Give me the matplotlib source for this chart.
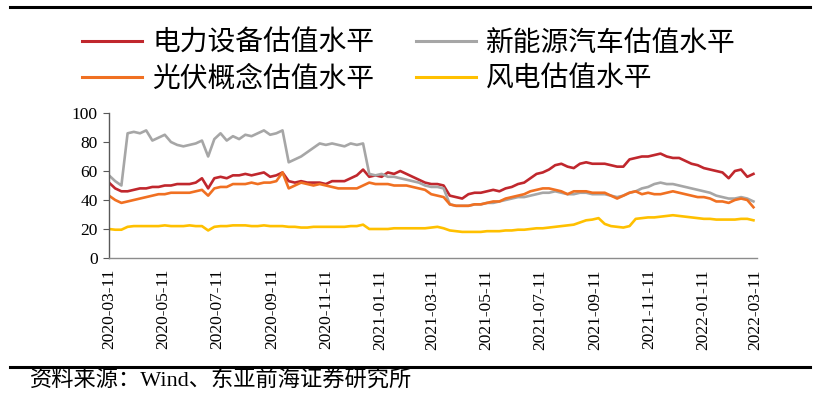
import matplotlib
matplotlib.use('Agg')
import matplotlib.pyplot as plt
import matplotlib.dates as mdates
from matplotlib.lines import Line2D
import pandas as pd

# weekly readings, first point 2020-03-11
dates = pd.date_range('2020-03-11', periods=105, freq='7D')

power_equip = [52, 48, 46, 46, 47, 48, 48, 49, 49, 50,
               50, 51, 51, 51, 52, 55, 48, 55, 56, 55,
               57, 57, 58, 57, 58, 59, 56, 57, 59, 53,
               52, 53, 52, 52, 52, 51, 53, 53, 53, 55,
               57, 61, 56, 57, 56, 59, 58, 60, 58, 56,
               54, 52, 51, 51, 50, 43, 42, 41, 44, 45,
               45, 46, 47, 46, 48, 49, 51, 52, 55, 58,
               59, 61, 64, 65, 63, 62, 65, 66, 65, 65,
               65, 64, 63, 63, 68, 69, 70, 70, 71, 72,
               70, 69, 69, 67, 65, 64, 62, 61, 60, 59,
               55, 60, 61, 56, 58]

nev = [57, 53, 50, 86, 87, 86, 88, 81, 83, 85,
       80, 78, 77, 78, 79, 81, 70, 82, 86, 81,
       84, 82, 85, 84, 86, 88, 85, 86, 88, 66,
       68, 70, 73, 76, 79, 78, 79, 78, 77, 79,
       78, 79, 58, 57, 58, 56, 56, 55, 54, 53,
       52, 50, 49, 49, 48, 37, 36, 36, 36, 37,
       37, 38, 38, 39, 40, 41, 42, 42, 43, 44,
       45, 45, 46, 45, 44, 44, 45, 45, 44, 44,
       44, 43, 42, 43, 45, 46, 48, 49, 51, 52,
       51, 51, 50, 49, 48, 47, 46, 45, 43, 42,
       41, 41, 42, 41, 39]

pv = [43, 40, 38, 39, 40, 41, 42, 43, 44, 44,
      45, 45, 45, 45, 46, 47, 43, 48, 49, 49,
      51, 51, 51, 52, 51, 52, 52, 53, 59, 48,
      50, 52, 51, 50, 51, 50, 49, 48, 48, 48,
      48, 50, 52, 51, 51, 51, 50, 50, 50, 49,
      48, 47, 44, 43, 42, 37, 36, 36, 36, 37,
      37, 38, 39, 39, 41, 42, 43, 44, 46, 47,
      48, 48, 47, 46, 44, 46, 46, 46, 45, 45,
      45, 43, 41, 43, 45, 46, 44, 45, 44, 44,
      45, 46, 45, 44, 43, 42, 42, 41, 39, 39,
      38, 40, 41, 40, 35]

wind = [20, 19.5, 19.5, 21.5, 22, 22, 22, 22, 22, 22.5,
        22, 22, 22, 22.5, 22, 22, 19, 21.5, 22, 22,
        22.5, 22.5, 22.5, 22, 22, 22.5, 22, 22, 22, 21.5,
        21.5, 21, 21, 21.5, 21.5, 21.5, 21.5, 21.5, 21.5, 22,
        22, 23, 20, 20, 20, 20, 20.5, 20.5, 20.5, 20.5,
        20.5, 20.5, 21, 21.5, 20.5, 19, 18.5, 18, 18, 18,
        18, 18.5, 18.5, 18.5, 19, 19, 19.5, 19.5, 20, 20.5,
        20.5, 21, 21.5, 22, 22.5, 23, 24.5, 26, 26.5, 27.5,
        23.5, 22, 21.5, 21, 22, 27, 27.5, 28, 28, 28.5,
        29, 29.5, 29, 28.5, 28, 27.5, 27, 27, 26.5, 26.5,
        26.5, 26.5, 27, 27, 26]

labels = ['电力设备估值水平', '新能源汽车估值水平', '光伏概念估值水平', '风电估值水平']
tick_dates = ['2020-03-11', '2020-05-11', '2020-07-11', '2020-09-11', '2020-11-11',
              '2021-01-11', '2021-03-11', '2021-05-11', '2021-07-11', '2021-09-11',
              '2021-11-11', '2022-01-11', '2022-03-11']
source = '资料来源：Wind、东亚前海证券研究所'

fig = plt.figure(figsize=(8.32, 3.95), dpi=100)
ax = fig.add_axes([109 / 832, 1 - 258 / 395, 648 / 832, 145 / 395])

l_red, = ax.plot(dates, power_equip, color='#C0272D', lw=1.9)
l_gray, = ax.plot(dates, nev, color='#A6A6A6', lw=1.9)
l_orange, = ax.plot(dates, pv, color='#F07022', lw=1.9)
l_yellow, = ax.plot(dates, wind, color='#FFC000', lw=1.9)

ax.set_ylim(0, 100)
ax.set_yticks([0, 20, 40, 60, 80, 100])
ax.set_xlim(pd.Timestamp('2020-03-11'), pd.Timestamp('2022-03-13'))
ax.set_xticks(pd.to_datetime(tick_dates))
ax.xaxis.set_major_formatter(mdates.DateFormatter('%Y-%m-%d'))

for lab in ax.get_xticklabels():
    lab.set_rotation(90)
for lab in ax.get_xticklabels() + ax.get_yticklabels():
    lab.set_family('Liberation Serif')
    lab.set_fontsize(12.5)

ax.spines['top'].set_visible(False)
ax.spines['right'].set_visible(False)
ax.spines['left'].set_color('#595959')
ax.spines['bottom'].set_color('#8C8C8C')
ax.spines['left'].set_linewidth(1.0)
ax.spines['bottom'].set_linewidth(1.0)
ax.tick_params(axis='y', length=4, color='#595959', pad=4)
ax.tick_params(axis='x', length=0, pad=8)

# legend, row by row
leg = fig.legend([l_red, l_orange, l_gray, l_yellow],
                 [labels[0], labels[2], labels[1], labels[3]],
                 ncol=2, loc='upper left', bbox_to_anchor=(82 / 832, 1 - 28 / 395),
                 frameon=False, borderpad=0, borderaxespad=0,
                 handlelength=2.16, handletextpad=0.36, columnspacing=1.5,
                 labelspacing=0.2,
                 prop={'family': ['Noto Sans CJK SC', 'DejaVu Sans'], 'size': 20})
for h in leg.legend_handles:
    h.set_linewidth(2.2)

# header and footer rules
fig.add_artist(Line2D([10 / 832, 810 / 832], [1 - 7 / 395, 1 - 7 / 395], color='black', lw=2.2))
fig.add_artist(Line2D([10 / 832, 810 / 832], [1 - 367 / 395, 1 - 367 / 395], color='black', lw=2.2))
fig.text(30 / 832, 1 - 381 / 395, source, va='center', ha='left', fontsize=16,
         family=['Liberation Serif', 'Noto Sans CJK SC'])

fig.savefig('out.png', dpi=100)
